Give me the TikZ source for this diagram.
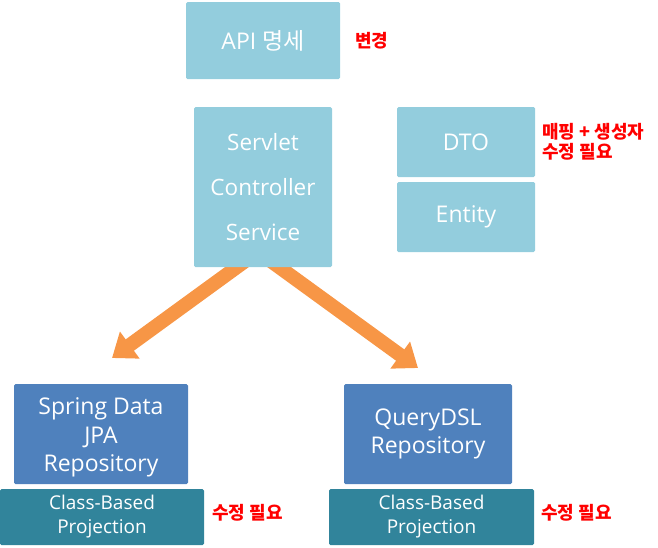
\documentclass[tikz,border=0pt]{standalone}
\usepackage{fontspec}
\setmainfont{Open Sans}
\newfontfamily\kr{Noto Sans CJK KR}
\usetikzlibrary{arrows.meta}
\definecolor{lightblue}{HTML}{93CDDD}
\definecolor{midblue}{HTML}{4F81BD}
\definecolor{teal}{HTML}{31849B}
\definecolor{orng}{HTML}{F79646}
\tikzset{
  lbox/.style={fill=lightblue, rounded corners=1.5pt, text=white, align=center, inner sep=0pt},
  rbox/.style={fill=midblue, rounded corners=1.5pt, text=white, align=center, inner sep=0pt},
  pbox/.style={fill=teal, rounded corners=1.5pt, text=white, align=center, inner sep=0pt},
  note/.style={text=red, font=\kr\bfseries\fontsize{18}{22}\selectfont, anchor=west, align=left, inner sep=0pt},
  bigarrow/.style={draw=orng, line width=14pt, -{Triangle[width=32pt,length=22pt]}, orng}
}
\begin{document}
\begin{tikzpicture}[x=1pt,y=-1pt]
\useasboundingbox (0,0) rectangle (658,547);
\coordinate (s1) at (248,259);
\coordinate (t1) at (112,358);
\coordinate (s2) at (268,259);
\coordinate (t2) at (418,368);
\draw[bigarrow] (s1) -- (t1);
\draw[bigarrow] (s2) -- (t2);
\node[lbox, minimum width=154pt, minimum height=77pt, font=\fontsize{23}{25}\selectfont] (api) at (263,40.5) {API {\kr 명세}};
\node[note] (n1) at (355,41) {변경};
\node[lbox, minimum width=138pt, minimum height=160pt, font=\fontsize{22.5}{45}\selectfont] (srv) at (263,187) {Servlet\\Controller\\Service};
\node[lbox, minimum width=138pt, minimum height=70pt, font=\fontsize{23}{24}\selectfont] (dto) at (466,142) {DTO};
\node[lbox, minimum width=138pt, minimum height=70pt, font=\fontsize{23}{24}\selectfont] (ent) at (466,217) {Entity};
\node[note] (n2) at (542,142) {매핑 + 생성자\\[-2pt]수정 필요};
\node[rbox, minimum width=174pt, minimum height=100pt, font=\fontsize{23}{28.5}\selectfont] (jpa) at (101,434) {\\[-4pt]Spring Data\\JPA\\Repository};
\node[rbox, minimum width=168pt, minimum height=100pt, font=\fontsize{23}{28}\selectfont] (qdsl) at (428,434) {QueryDSL\\Repository};
\node[pbox, minimum width=204pt, minimum height=56pt, font=\fontsize{19}{24}\selectfont] (p1) at (102,517) {Class-Based\\Projection};
\node[pbox, minimum width=205pt, minimum height=56pt, font=\fontsize{19}{24}\selectfont] (p2) at (431.5,517) {Class-Based\\Projection};
\node[note] (n3) at (212,513) {수정 필요};
\node[note] (n4) at (541,513) {수정 필요};
\end{tikzpicture}
\end{document}
